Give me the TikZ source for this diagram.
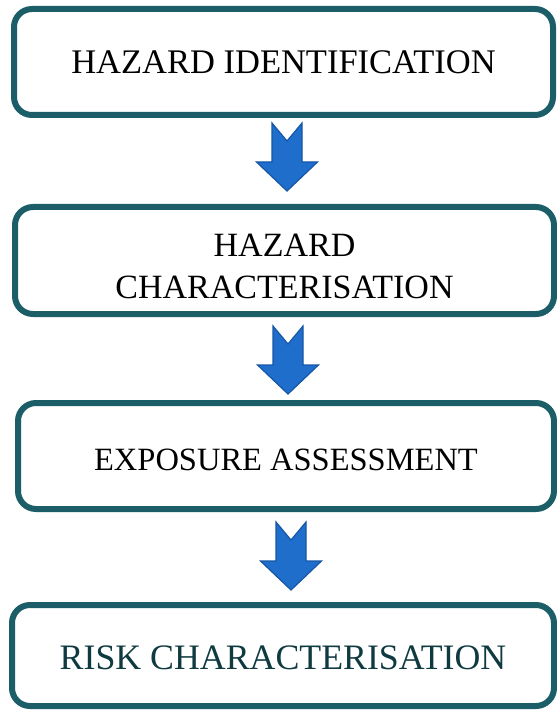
\documentclass[tikz,border=0pt]{standalone}
\usepackage{fontspec}
\setmainfont{Liberation Serif}
\definecolor{boxline}{HTML}{1B5E68}
\definecolor{arrowfill}{HTML}{1F6ECB}
\definecolor{arrowline}{HTML}{1556A6}
\definecolor{darktext}{HTML}{0F3A40}
\tikzset{
  stagebox/.style={draw=boxline, line width=6pt, rounded corners=18pt,
    fill=white, inner sep=0pt},
  stagetext/.style={align=center, inner sep=0pt},
  blockarrow/.style={fill=arrowfill, draw=arrowline, line width=1.2pt, line join=miter},
  pics/downarrow/.style={code={
    \path[blockarrow] (-15,0) -- (0,18) -- (15,0) -- (15,39) -- (30.5,39)
      -- (0,68) -- (-30.5,39) -- (-15,39) -- cycle;
  }}
}
\begin{document}
\begin{tikzpicture}[x=1pt,y=-1pt]
\useasboundingbox (0,0) rectangle (556,711);
\node[stagebox, minimum width=539pt, minimum height=106pt] (hi) at (283.5,62) {};
\node[stagebox, minimum width=539pt, minimum height=107pt] (hc) at (284.5,260.5) {};
\node[stagebox, minimum width=536pt, minimum height=106pt] (ea) at (286,456) {};
\node[stagebox, minimum width=542pt, minimum height=101pt] (rc) at (283,655.5) {};
\node[stagetext, font=\fontsize{34.5}{42}\selectfont] (hit) at (hi.center) {HAZARD IDENTIFICATION};
\node[stagetext, font=\fontsize{34}{42}\selectfont, yshift=-6pt] (hct) at (hc.center) {HAZARD\\CHARACTERISATION};
\node[stagetext, font=\fontsize{32.5}{42}\selectfont, yshift=-4pt] (eat) at (ea.center) {EXPOSURE ASSESSMENT};
\node[stagetext, text=darktext, font=\fontsize{35.8}{42}\selectfont, yshift=-2pt] (rct) at (rc.center) {RISK CHARACTERISATION};
\coordinate (a1) at (287,123);
\coordinate (a2) at (288,326);
\coordinate (a3) at (291,522);
\pic at (a1) {downarrow};
\pic at (a2) {downarrow};
\pic at (a3) {downarrow};
\end{tikzpicture}
\end{document}
